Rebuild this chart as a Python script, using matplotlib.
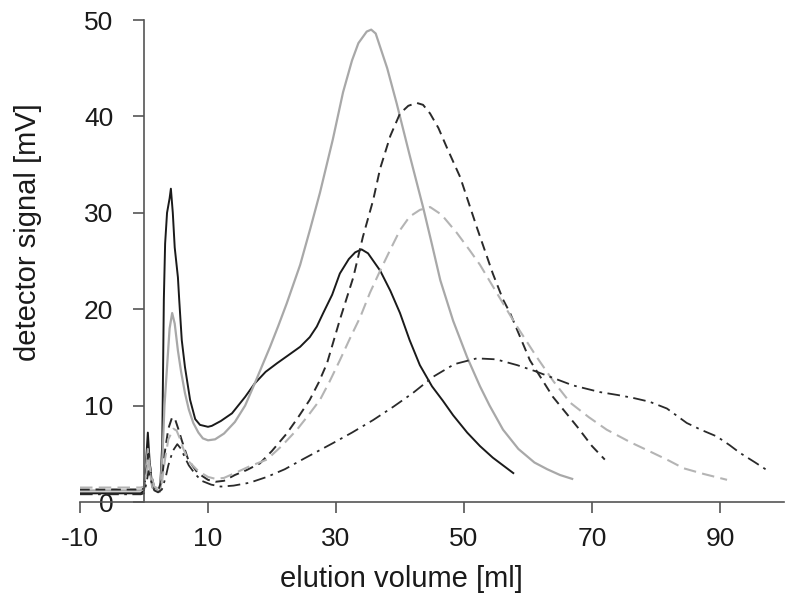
import matplotlib
matplotlib.use("Agg")
import matplotlib.pyplot as plt

plt.rcParams['font.family'] = ['Liberation Sans', 'DejaVu Sans']
plt.rcParams['axes.unicode_minus'] = False

# 黑色實線
x_black = [-10, -5, -0.5, 0.0, 0.3, 0.6, 0.9, 1.3, 2.0, 2.5, 2.85, 3.1, 3.3, 3.6, 4.0, 4.2, 4.5,
           4.8, 5.3, 5.5, 5.9, 6.4, 7.2, 8.0, 8.75, 10.0, 10.6, 12.0, 13.75, 15.8, 17.3,
           19.0, 20.8, 22.5, 24.4, 25.9, 27.0, 28.0, 29.4, 30.6, 32.0, 33.0, 34.0, 35.0,
           36.9, 38.5, 40.0, 41.5, 43.1, 45.0, 46.7, 48.3, 50.5, 52.5, 54.5, 56.7, 57.7]
y_black = [0.9, 0.9, 0.9, 1.2, 4.0, 7.2, 4.0, 1.6, 1.2, 1.1, 6.0, 21.0, 26.8, 30.0, 31.5, 32.5, 30.0,
           26.4, 23.3, 21.0, 16.8, 14.0, 10.6, 8.6, 8.0, 7.8, 7.9, 8.4, 9.2, 10.9, 12.3,
           13.5, 14.4, 15.2, 16.1, 17.1, 18.2, 19.6, 21.5, 23.7, 25.2, 25.9, 26.2, 25.8,
           24.0, 21.9, 19.6, 16.8, 14.2, 12.0, 10.5, 9.0, 7.2, 5.8, 4.6, 3.5, 3.0]

# 淺灰實線
x_gray = [-10, -5, -0.5, 0.0, 0.3, 0.6, 0.9, 1.3, 2.0, 2.5, 2.9, 3.2, 3.6, 4.0, 4.4, 4.8,
          5.3, 5.8, 6.4, 7.0, 7.7, 8.5, 9.2, 10.0, 11.1, 12.5, 14.2, 15.8, 17.3, 18.5,
          19.7, 21.0, 22.3, 24.4, 26.0, 27.5, 29.5, 31.1, 32.5, 33.5, 34.8, 35.5, 36.2,
          36.9, 38.0, 39.5, 41.5, 43.6, 45.0, 46.3, 48.3, 50.5, 52.5, 54.0, 56.1, 58.5,
          61.0, 63.0, 65.0, 66.9]
y_gray = [1.2, 1.2, 1.2, 1.4, 3.5, 5.5, 3.2, 1.5, 1.2, 1.1, 5.0, 10.0, 14.0, 18.0, 19.6, 18.5,
          15.7, 13.5, 11.3, 9.6, 8.2, 7.2, 6.6, 6.4, 6.5, 7.1, 8.3, 10.0, 12.3, 14.2,
          16.1, 18.3, 20.6, 24.6, 28.4, 32.1, 37.6, 42.5, 45.8, 47.6, 48.8, 49.0, 48.6,
          47.2, 45.0, 41.3, 36.0, 30.6, 26.7, 23.0, 18.8, 15.0, 12.0, 10.0, 7.5, 5.5,
          4.1, 3.4, 2.8, 2.4]

# 深色虛線
x_dash = [-10, -5, -0.5, 0.0, 0.4, 0.7, 1.1, 1.6, 2.2, 2.8, 3.3, 3.8, 4.4, 4.9, 5.4, 5.9,
          6.9, 8.4, 10.0, 11.2, 12.5, 14.2, 16.0, 18.1, 20.0, 22.3, 24.0, 25.9, 27.3, 28.6,
          30.6, 32.7, 34.2, 35.8, 36.9, 38.5, 40.0, 41.3, 42.6, 43.6, 44.7, 46.0, 47.3, 49.4,
          52.0, 54.5, 56.1, 57.2, 60.3, 63.9, 67.7, 70.0, 72.0]
y_dash = [1.3, 1.3, 1.3, 1.4, 3.5, 5.0, 3.0, 1.5, 1.2, 2.3, 5.4, 7.6, 8.8, 8.5, 7.5, 6.4,
          4.4, 3.0, 2.3, 2.1, 2.2, 2.8, 3.3, 4.0, 5.3, 7.1, 8.7, 10.6, 12.4, 14.4,
          18.9, 23.3, 27.5, 31.3, 34.6, 38.0, 40.3, 41.1, 41.4, 41.2, 40.3, 38.8, 36.8, 33.7,
          28.5, 23.7, 21.0, 19.6, 14.7, 10.9, 7.8, 5.8, 4.4]

# 淺灰虛線
x_ldash = [-10, -5, -0.5, 0.0, 0.4, 0.7, 1.1, 1.6, 2.2, 2.8, 3.3, 3.8, 4.6, 5.1, 5.6, 6.1,
           7.0, 8.5, 10.0, 11.2, 12.5, 14.2, 16.5, 19.2, 21.5, 23.9, 25.8, 27.5, 29.0,
           30.6, 32.2, 33.8, 35.3, 36.9, 38.5, 40.0, 41.5, 43.1, 44.7, 46.5, 48.9, 50.9,
           52.5, 54.3, 56.1, 58.0, 61.4, 64.0, 66.6, 69.5, 72.3, 76.0, 79.5, 82.0, 84.3,
           87.5, 91.1]
y_ldash = [1.5, 1.5, 1.5, 1.6, 3.0, 4.5, 2.8, 1.6, 1.4, 2.0, 4.5, 6.5, 7.6, 7.4, 6.6, 5.6,
           4.2, 3.2, 2.6, 2.4, 2.5, 3.0, 3.7, 4.4, 5.8, 7.5, 9.1, 10.6, 12.5,
           14.7, 17.0, 19.2, 21.7, 24.0, 26.2, 28.2, 29.6, 30.3, 30.6, 29.8, 27.9, 26.1,
           24.6, 22.6, 20.6, 18.5, 15.0, 12.5, 10.3, 8.8, 7.5, 6.2, 5.1, 4.3, 3.5,
           2.9, 2.3]

# 點劃線
x_dashdot = [-10, -5, -0.5, 0.0, 0.4, 0.7, 1.1, 1.6, 2.2, 2.8, 3.4, 3.8, 4.5, 5.2, 5.8,
             6.4, 7.0, 8.0, 9.0, 10.5, 12.0, 14.0, 16.5, 19.2, 22.0, 25.0, 29.5, 32.5,
             35.8, 39.0, 42.0, 45.2, 48.5, 52.0, 55.0, 58.3, 61.0, 63.4, 67.0, 71.25,
             74.0, 76.4, 79.0, 81.7, 84.8, 87.0, 89.5, 91.5, 93.1, 95.5, 97.8]
y_dashdot = [0.8, 0.8, 0.8, 0.9, 2.0, 3.2, 2.2, 1.2, 1.0, 1.3, 2.6, 3.8, 5.3, 6.0, 5.5,
             4.6, 3.8, 2.9, 2.2, 1.8, 1.6, 1.7, 2.0, 2.6, 3.4, 4.5, 6.1, 7.2,
             8.5, 9.9, 11.3, 13.0, 14.3, 14.9, 14.8, 14.2, 13.6, 13.0, 12.1, 11.4,
             11.1, 10.8, 10.4, 9.7, 8.2, 7.5, 6.8, 5.9, 5.1, 4.1, 3.1]

x_ticks = [-10, 10, 30, 50, 70, 90]
y_ticks = [0, 10, 20, 30, 40, 50]

fig = plt.figure(figsize=(8, 6.14), dpi=100)
ax = fig.add_axes([0.1, 1 - 502 / 614, 0.88, 482 / 614])

ax.plot(x_black, y_black, color='#1a1a1a', lw=1.4, ls='-')
ax.plot(x_gray, y_gray, color='#a8a8a8', lw=1.6, ls='-')
ax.plot(x_dash, y_dash, color='#2a2a2a', lw=1.4, ls=(0, (5, 3)))
ax.plot(x_ldash, y_ldash, color='#b4b4b4', lw=1.5, ls=(0, (6, 3)))
ax.plot(x_dashdot, y_dashdot, color='#2a2a2a', lw=1.3, ls=(0, (7, 3, 1.5, 3)))

ax.set_xlim(-10, 100)
ax.set_ylim(0, 50)
ax.set_xticks(x_ticks)
ax.set_yticks(y_ticks)

for side in ['top', 'right']:
    ax.spines[side].set_visible(False)
ax.spines['left'].set_position(('data', 0))
for side in ['left', 'bottom']:
    ax.spines[side].set_color('#555555')
    ax.spines[side].set_linewidth(1.2)

ax.tick_params(axis='both', direction='out', length=8, width=1.2, color='#555555',
               labelsize=19, labelcolor='#1a1a1a')
ax.tick_params(axis='x', pad=10)
ax.tick_params(axis='y', pad=14)

ax.set_xlabel('elution volume [ml]', fontsize=21, color='#1a1a1a')
ax.set_ylabel('detector signal [mV]', fontsize=21, color='#1a1a1a')
ax.xaxis.set_label_coords(0.456, -0.13)
ax.xaxis.label.set_va('top')
ax.yaxis.set_label_coords(-0.054, 0.56)

fig.savefig('out.png', dpi=100)
